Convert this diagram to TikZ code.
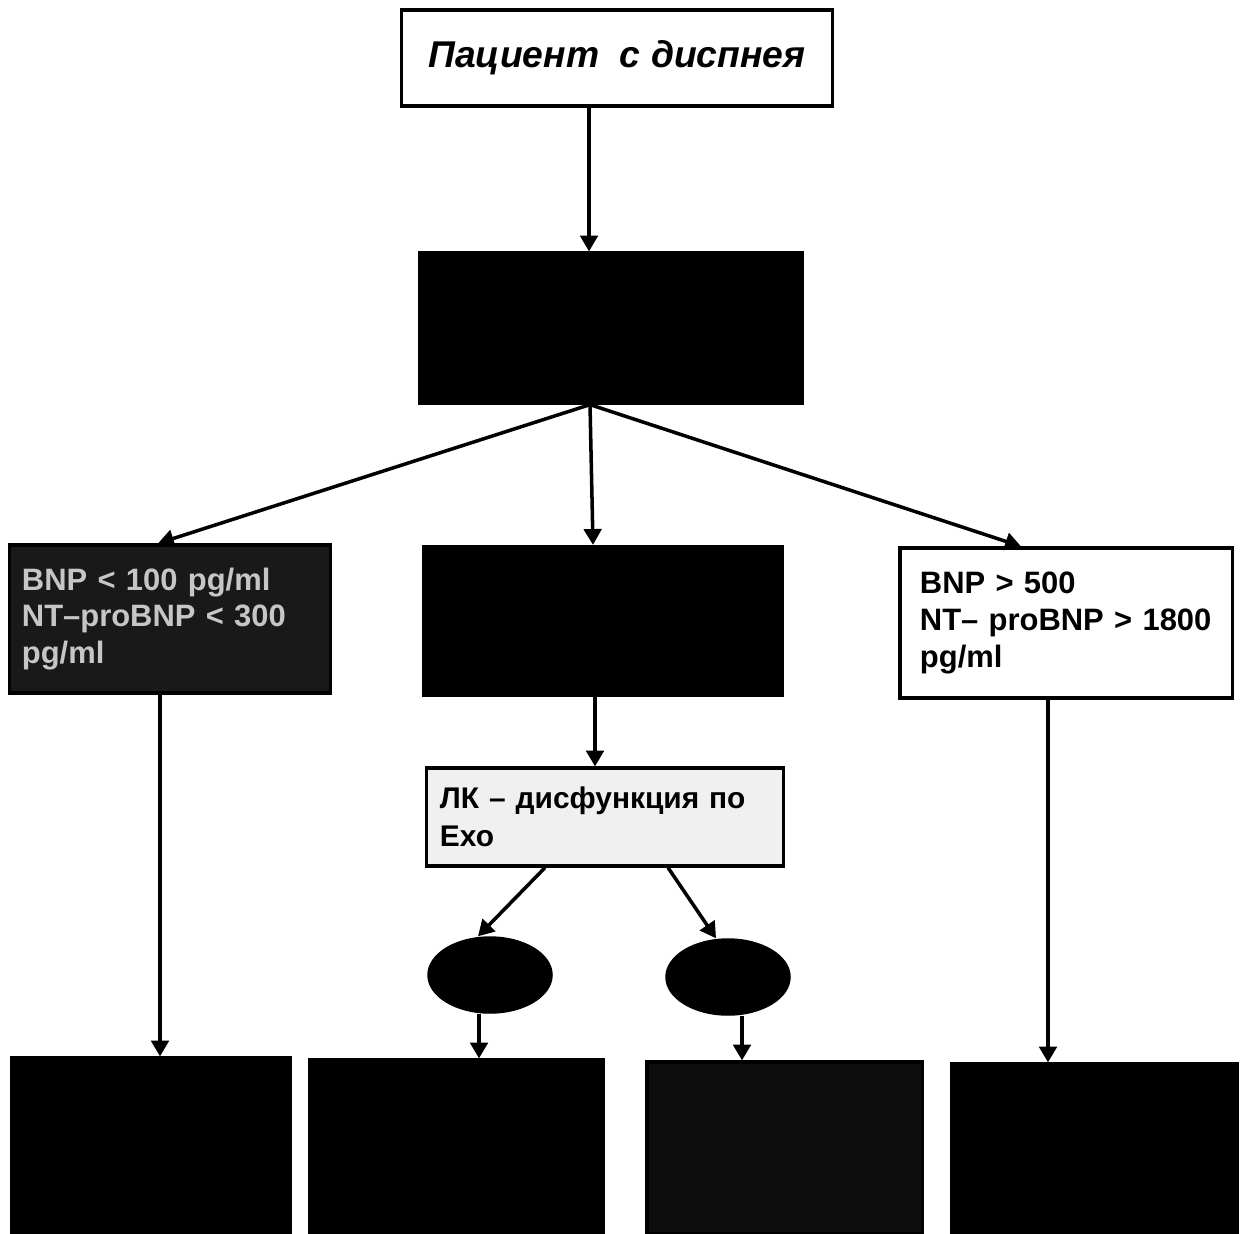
\documentclass[tikz,border=0pt]{standalone}
\usepackage{fontspec}
\setmainfont{Liberation Sans}
\usetikzlibrary{arrows.meta,shapes.geometric}
\begin{document}
\begin{tikzpicture}[x=0.01cm,y=-0.01cm]
\tikzstyle{box}=[rectangle,draw,line width=0.9pt,inner sep=0pt]
\tikzstyle{blk}=[box,fill=black]
\tikzstyle{oval}=[ellipse,draw,fill=black,inner sep=0pt,minimum width=1.24cm,minimum height=0.76cm]
\tikzstyle{arr}=[line width=1pt,-{Triangle[length=4.5pt,width=5pt]}]
\tikzstyle{txt}=[font=\fontsize{8.8}{10.5}\selectfont\bfseries,align=left]
\useasboundingbox (0,0) rectangle (1246,1233);

  \node[box,minimum width=4.3cm,minimum height=0.96cm,font=\fontsize{10.6}{13}\selectfont\bfseries\itshape]
    (patient) at (617,58) {Пациент~~с диспнея};
  \node[blk,minimum width=3.82cm,minimum height=1.5cm] (test) at (611,328) {};

  \node[box,txt,fill=black!90,text=gray!45,minimum width=3.2cm,minimum height=1.48cm,
        inner xsep=0.12cm,text width=2.96cm] (low) at (170,619)
    {BNP < 100 pg/ml\\NT–proBNP < 300\\pg/ml};
  \node[blk,minimum width=3.59cm,minimum height=1.49cm] (mid) at (603,621) {};
  \node[box,txt,minimum width=3.32cm,minimum height=1.5cm,
        inner xsep=0.2cm,text width=2.92cm] (high) at (1066,623)
    {BNP > 500\\NT– proBNP > 1800\\pg/ml};

  \node[box,txt,fill=gray!12,minimum width=3.56cm,minimum height=0.98cm,
        font=\fontsize{8.5}{10.8}\selectfont\bfseries,
        inner xsep=0.13cm,text width=3.3cm] (lk) at (605,817)
    {ЛК – дисфункция по\\Ехо};

  \node[oval] (ovalA) at (490,975) {};
  \node[oval] (ovalB) at (728,977) {};

  \foreach \name/\x/\y/\w/\h/\shade in {out1/151/1146/2.78/1.76/100, out2/456.5/1147/2.93/1.74/100,
      out3/784.5/1148/2.75/1.72/95, out4/1094.5/1149/2.85/1.70/100}
    \node[blk,fill=black!\shade,minimum width=\w cm,minimum height=\h cm] (\name) at (\x,\y) {};

  \draw[arr] (patient.south -| 589,0) -- (test.north -| 589,0);
  \draw[arr] (test.south -| 590,0) -- (low.north -| 158,0);
  \draw[arr] (test.south -| 590,0) -- (mid.north -| 593,0);
  \draw[arr] (test.south -| 590,0) -- (high.north -| 1021,0);
  \draw[arr] (mid.south -| 595,0) -- (lk.north -| 595,0);
  \draw[arr] (lk.south -| 545,0) -- (ovalA.north -| 478,0);
  \draw[arr] (lk.south -| 668,0) -- (ovalB.north -| 716,0);
  \draw[arr] (ovalA.south -| 479,0) -- (out2.north -| 479,0);
  \draw[arr] (ovalB.south -| 742,0) -- (out3.north -| 742,0);
  \draw[arr] (low.south -| 160,0) -- (out1.north -| 160,0);
  \draw[arr] (high.south -| 1048,0) -- (out4.north -| 1048,0);

\end{tikzpicture}
\end{document}
